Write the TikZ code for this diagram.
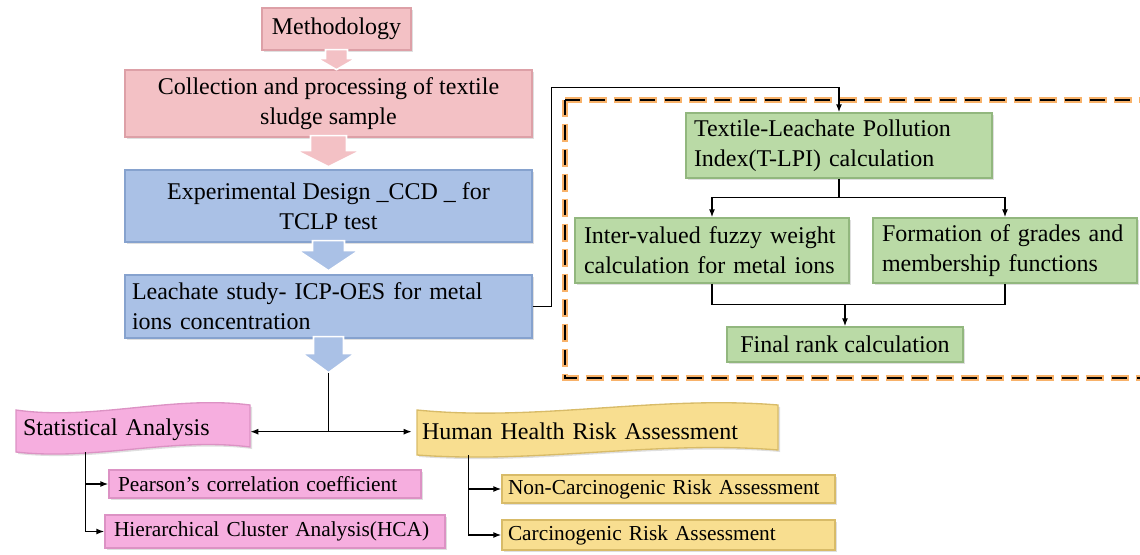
\documentclass[tikz,border=0pt]{standalone}
\usepackage{fontspec}
\setmainfont{Liberation Serif}
\usetikzlibrary{arrows.meta,shadows,calc,backgrounds}

\definecolor{pinkA}{HTML}{F3C1C5}
\definecolor{pinkB}{HTML}{DDA0A7}
\definecolor{blueA}{HTML}{AAC1E6}
\definecolor{blueB}{HTML}{86A2CE}
\definecolor{greenA}{HTML}{BADAA6}
\definecolor{greenB}{HTML}{92B77E}
\definecolor{magA}{HTML}{F6AEDF}
\definecolor{magB}{HTML}{DC92C4}
\definecolor{yelA}{HTML}{F8DE90}
\definecolor{yelB}{HTML}{D8BB68}
\definecolor{dashorange}{HTML}{F8B26A}

\def\u{0.75pt}

\begin{document}
\begin{tikzpicture}[x=\u, y=-\u,
  every node/.style={font=\fontsize{18}{22.5}\selectfont, text=black},
  small/.style={font=\fontsize{16}{20}\selectfont},
  box/.style={rectangle, line width=1pt, inner sep=0pt,
    drop shadow={shadow xshift=1.5pt, shadow yshift=-1.5pt, opacity=.25}},
  pinkbox/.style={box, fill=pinkA, draw=pinkB},
  bluebox/.style={box, fill=blueA, draw=blueB},
  greenbox/.style={box, fill=greenA, draw=greenB},
  magbox/.style={box, fill=magA, draw=magB, small},
  yelbox/.style={box, fill=yelA, draw=yelB, small},
  wave/.style={line width=1pt,
    drop shadow={shadow xshift=1.5pt, shadow yshift=-1.5pt, opacity=.25}},
  blockarrow/.style={draw=white, line width=1.2pt},
  conn/.style={line width=1.1pt, -{Latex[length=6pt,width=4.5pt]}},
  line/.style={line width=1.1pt},
  framehalo/.style={dashorange, line width=4.2pt, dash pattern=on 13.5pt off 5.25pt, dash phase=1.1pt},
  frameline/.style={black, line width=2.2pt, dash pattern=on 11.25pt off 7.5pt},
]
\useasboundingbox (0,0) rectangle (1140,554);

% ---------- main column ----------
\node[pinkbox, minimum width=149*\u, minimum height=42*\u] (meth) at (336.5,29) {Methodology};
\node[pinkbox, minimum width=407*\u, minimum height=67*\u, align=center] (coll) at (328.5,103.5)
  {Collection and processing of textile\\sludge sample};
\node[bluebox, minimum width=407*\u, minimum height=72*\u, align=center] (exp) at (328.5,206)
  {Experimental Design \_CCD \_ for\\TCLP test};
\node[bluebox, minimum height=63*\u, text width=393*\u, inner xsep=7*\u, align=left] (leach) at (328.5,306.5)
  {Leachate study- ICP-OES for metal\\ions concentration};

% block arrows between the stages
\path[blockarrow, fill=pinkA] ($(meth.south)+(-11,-1)$) -- ++(22,0) -- ++(0,9) -- ++(8,0)
  -- ++(-19,11) -- ++(-19,-11) -- ++(8,0) -- cycle;
\path[blockarrow, fill=pinkA] ($(coll.south)+(-18,-2)$) -- ++(36,0) -- ++(0,15) -- ++(14,0)
  -- ++(-32,16) -- ++(-32,-16) -- ++(14,0) -- cycle;
\path[blockarrow, fill=blueA] ($(exp.south)+(-16,-2)$) -- ++(32,0) -- ++(0,10) -- ++(14,0)
  -- ++(-30,20) -- ++(-30,-20) -- ++(14,0) -- cycle;
\path[blockarrow, fill=blueA] ($(leach.south)+(-15,-2)$) -- ++(30,0) -- ++(0,17) -- ++(11,0)
  -- ++(-26,19) -- ++(-26,-19) -- ++(11,0) -- cycle;
\coordinate (tip) at ($(leach.south)+(0,34)$);
\coordinate (split) at ($(tip)+(0,59)$);

% ---------- T-LPI frame ----------
\draw[framehalo] (565,100) -- (565,378) -- (1170,378) (565,100) -- (1170,100);
\draw[frameline] (565,100) -- (565,378) -- (1170,378) (565,100) -- (1170,100);

\node[greenbox, minimum height=65*\u, text width=290*\u, inner xsep=8*\u, align=left] (tlpi) at (839,145.5)
  {Textile-Leachate Pollution\\Index(T-LPI) calculation};
\node[greenbox, minimum height=65*\u, text width=256*\u, inner xsep=9*\u, align=left] (inter) at (712,250.5)
  {Inter-valued fuzzy weight\\calculation for metal ions};
\node[greenbox, minimum height=65*\u, text width=246*\u, inner xsep=9*\u, align=left] (form) at (1005,250.5)
  {Formation of grades and\\membership functions};
\node[greenbox, minimum width=236*\u, minimum height=35*\u] (final) at (845,344.5) {Final rank calculation};

\draw[conn] (leach.east) -- ++(19,0) |- ($(tlpi.north)+(0,-25)$) -- (tlpi.north);
\coordinate (fork) at ($(tlpi.south)+(0,19)$);
\draw[line] (tlpi.south) -- (fork);
\draw[conn] (fork) -| (inter.north);
\draw[conn] (fork) -| (form.north);
\coordinate (join) at ($(final.north)+(0,-22)$);
\draw[line] (inter.south) |- (join) -| (form.south);
\draw[conn] (join) -- (final.north);

% ---------- analyses ----------
\node[minimum height=44*\u, text width=220*\u, inner xsep=7*\u, align=left] (stat) at (133,430)
  {Statistical Analysis};
\node[minimum height=47*\u, text width=351*\u, inner xsep=10*\u, align=left] (hh) at (597.5,431.5)
  {Human Health Risk Assessment};
\begin{scope}[on background layer]
  \path[wave, fill=magA, draw=magB] (16,410) .. controls (94,421) and (172,395) .. (250,405)
    -- (250,447) .. controls (172,437) and (94,461) .. (16,452) -- cycle;
  \path[wave, fill=yelA, draw=yelB] (417,410) .. controls (537,422) and (657,395) .. (778,405)
    -- (778,450) .. controls (657,440) and (537,464) .. (417,455) -- cycle;
\end{scope}

\node[magbox, minimum height=28*\u, text width=294*\u, inner xsep=9*\u, align=left] (pear) at (265,484)
  {Pearson's correlation coefficient};
\node[magbox, minimum height=33*\u, text width=322*\u, inner xsep=9*\u, align=left] (hca) at (275,531.5)
  {Hierarchical Cluster Analysis(HCA)};
\node[yelbox, minimum height=28*\u, text width=321*\u, inner xsep=6*\u, align=left] (ncarc) at (668.5,489)
  {Non-Carcinogenic Risk Assessment};
\node[yelbox, minimum height=30*\u, text width=321*\u, inner xsep=6*\u, align=left] (carc) at (668.5,535)
  {Carcinogenic Risk Assessment};

\draw[line] (tip) -- (split);
\draw[conn] (split) -- (split -| stat.east);
\draw[conn] (split) -- (split -| hh.west);

\coordinate (sbr) at ($(stat.south west)+(70,0)$);
\draw[conn] (sbr) |- (pear.west);
\draw[conn] (sbr) |- (hca.west);
\coordinate (hbr) at ($(hh.south west)+(57,0)$);
\draw[conn] (hbr) |- (ncarc.west);
\draw[conn] (hbr) |- (carc.west);
\end{tikzpicture}
\end{document}
